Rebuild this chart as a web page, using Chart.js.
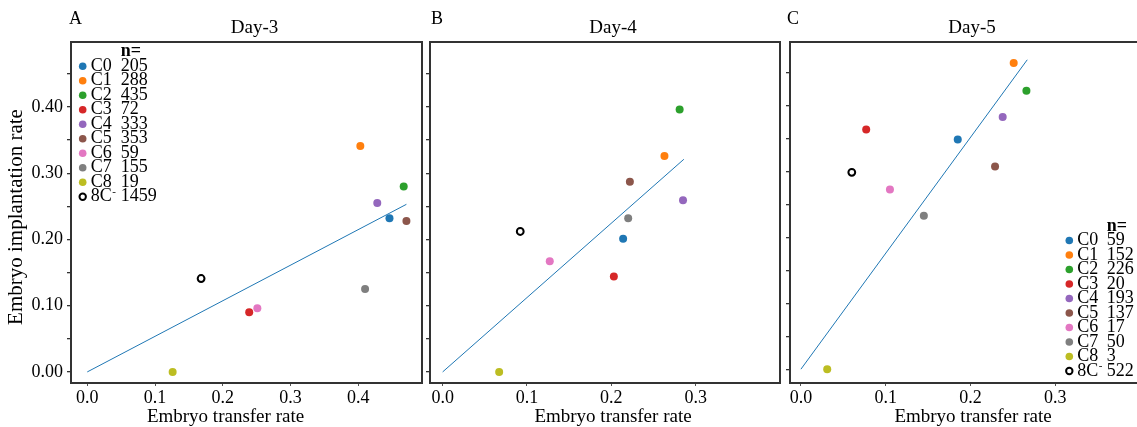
<!DOCTYPE html>
<html>
<head>
<meta charset="utf-8">
<script src="https://cdn.jsdelivr.net/npm/chart.js@4.4.1/dist/chart.umd.min.js"></script>
<style>
  html, body { margin: 0; padding: 0; background: #fff; overflow: hidden; }
  #wrap { position: relative; width: 1137px; height: 427px; overflow: hidden; }
  canvas { position: absolute; top: 0; }
</style>
</head>
<body>
<div id="wrap">
  <canvas id="chartA" width="428" height="427" style="left:0px"></canvas>
  <canvas id="chartB" width="362" height="427" style="left:424px"></canvas>
  <canvas id="chartC" width="362" height="427" style="left:784px"></canvas>
</div>
<script>
// clusters and colours
var clusters = ['C0', 'C1', 'C2', 'C3', 'C4', 'C5', 'C6', 'C7', 'C8'];
var clusterColors = ['#1f77b4', '#ff7f0e', '#2ca02c', '#d62728', '#9467bd', '#8c564b', '#e377c2', '#7f7f7f', '#bcbd22'];
var negLabel = '8C';

// Day-3
var day3X = [0.446, 0.403, 0.467, 0.239, 0.428, 0.471, 0.251, 0.410, 0.126];
var day3Y = [0.232, 0.341, 0.280, 0.090, 0.255, 0.228, 0.096, 0.125, 0.000];
var day3N = [205, 288, 435, 72, 333, 353, 59, 155, 19];
var day3Neg = [0.168, 0.141];
var day3NegN = 1459;
var day3Fit = [[0, 0], [0.471, 0.253]];

// Day-4
var day4X = [0.214, 0.263, 0.281, 0.203, 0.285, 0.222, 0.127, 0.220, 0.067];
var day4Y = [0.201, 0.326, 0.396, 0.144, 0.259, 0.287, 0.167, 0.232, 0.000];
var day4N = [31, 77, 121, 34, 86, 68, 13, 29, 4];
var day4Neg = [0.092, 0.212];
var day4NegN = 529;
var day4Fit = [[0, 0], [0.286, 0.321]];

// Day-5
var day5X = [0.185, 0.251, 0.266, 0.077, 0.238, 0.229, 0.105, 0.145, 0.031];
var day5Y = [0.349, 0.465, 0.423, 0.364, 0.383, 0.308, 0.273, 0.233, 0.000];
var day5N = [59, 152, 226, 20, 193, 137, 17, 50, 3];
var day5Neg = [0.060, 0.299];
var day5NegN = 522;
var day5Fit = [[0, 0], [0.267, 0.470]];

// axis ticks
var yTickValues = [0, 0.05, 0.1, 0.15, 0.2, 0.25, 0.3, 0.35, 0.4, 0.45];
var xTicksA = [0, 0.1, 0.2, 0.3, 0.4];
var xTicksBC = [0, 0.1, 0.2, 0.3];

var serif = "'Liberation Serif', 'Times New Roman', serif";

function toPoints(xs, ys) {
    return xs.map(function(x, i) { return { x: x, y: ys[i] }; });
}

// draws box, panel letter, title, axis titles and the n= legend
var panelPlugin = {
    id: 'panelDecor',
    afterDraw: function(chart) {
        var o = chart.options.plugins.panelDecor;
        var a = chart.chartArea;
        var ctx = chart.ctx;
        ctx.save();

        // frame
        ctx.strokeStyle = '#333';
        ctx.lineWidth = 2;
        ctx.strokeRect(a.left, a.top, a.right - a.left, a.bottom - a.top);

        ctx.fillStyle = '#000';
        ctx.textBaseline = 'middle';

        // panel letter
        ctx.font = '18px ' + serif;
        ctx.textAlign = 'left';
        ctx.fillText(o.letter, a.left + o.letterDx, 19);

        // title
        ctx.font = '19px ' + serif;
        ctx.textAlign = 'center';
        ctx.fillText(o.title, (a.left + a.right) / 2 + o.titleDx, 28);

        // x title
        ctx.fillText('Embryo transfer rate', (a.left + a.right) / 2 + o.xTitleDx, 417);

        // y title (only first panel)
        if (o.yTitle) {
            ctx.save();
            ctx.font = '21px ' + serif;
            ctx.translate(16, 217);
            ctx.rotate(-Math.PI / 2);
            ctx.fillText(o.yTitle, 0, 0);
            ctx.restore();
        }

        // legend
        var lg = o.legend;
        var x0 = lg.x, y0 = lg.y, step = 14.5;
        ctx.font = 'bold 18px ' + serif;
        ctx.textAlign = 'left';
        ctx.fillText('n=', x0 + lg.numDx, y0);
        ctx.font = '18px ' + serif;
        for (var i = 0; i < clusters.length; i++) {
            var yy = y0 + step * (i + 1);
            ctx.beginPath();
            ctx.fillStyle = clusterColors[i];
            ctx.arc(x0, yy, 3.8, 0, Math.PI * 2);
            ctx.fill();
            ctx.fillStyle = '#000';
            ctx.fillText(clusters[i], x0 + 8, yy);
            ctx.fillText(String(lg.n[i]), x0 + lg.numDx, yy);
        }
        var yn = y0 + step * (clusters.length + 1);
        ctx.beginPath();
        ctx.strokeStyle = '#000';
        ctx.lineWidth = 2;
        ctx.arc(x0, yn, 3.2, 0, Math.PI * 2);
        ctx.stroke();
        ctx.fillText(negLabel, x0 + 8, yn);
        var w = ctx.measureText(negLabel).width;
        ctx.font = '11px ' + serif;
        ctx.fillText('-', x0 + 8 + w + 0.5, yn - 5);
        ctx.font = '18px ' + serif;
        ctx.fillText(String(lg.negN), x0 + lg.numDx, yn);

        ctx.restore();
    }
};

function makeChart(id, cfg) {
    var ctx = document.getElementById(id);
    if (!ctx) {
        console.error('Canvas element not found.');
        return;
    }
    return new Chart(ctx.getContext('2d'), {
        type: 'scatter',
        data: {
            datasets: [{
                type: 'line',
                data: cfg.fit.map(function(p) { return { x: p[0], y: p[1] }; }),
                borderColor: '#1f77b4',
                borderWidth: 1,
                pointRadius: 0,
                fill: false
            }, {
                data: toPoints(cfg.xs, cfg.ys),
                backgroundColor: clusterColors,
                borderColor: clusterColors,
                borderWidth: 0,
                pointRadius: 4
            }, {
                data: [{ x: cfg.neg[0], y: cfg.neg[1] }],
                backgroundColor: '#fff',
                borderColor: '#000',
                borderWidth: 2,
                pointRadius: 3.4
            }]
        },
        options: {
            responsive: false,
            animation: false,
            layout: { padding: { top: 42, right: cfg.padRight, bottom: 0, left: 0 } },
            plugins: {
                legend: { display: false },
                tooltip: { enabled: false },
                panelDecor: cfg.decor
            },
            scales: {
                x: {
                    type: 'linear',
                    min: cfg.xMin,
                    max: cfg.xMax,
                    afterBuildTicks: function(s) { s.ticks = cfg.xTicks.map(function(v) { return { value: v }; }); },
                    afterFit: function(s) { s.height = 44; },
                    grid: { display: true, drawOnChartArea: false, drawTicks: true, tickLength: 3, color: '#555', lineWidth: 1 },
                    border: { display: false },
                    ticks: {
                        padding: 1,
                        color: '#000',
                        font: { family: serif, size: 18 },
                        callback: function(v) { return v.toFixed(1); }
                    }
                },
                y: {
                    type: 'linear',
                    min: cfg.yMin,
                    max: cfg.yMax,
                    afterBuildTicks: function(s) { s.ticks = yTickValues.map(function(v) { return { value: v }; }); },
                    afterFit: function(s) { s.width = cfg.yWidth; },
                    grid: { display: true, drawOnChartArea: false, drawTicks: true, tickLength: 4, color: '#333', lineWidth: 1.3 },
                    border: { display: false },
                    ticks: {
                        display: cfg.yLabels,
                        padding: 4,
                        color: '#000',
                        font: { family: serif, size: 18 },
                        callback: function(v) {
                            var r = Math.round(v * 100);
                            return r % 10 === 0 ? v.toFixed(2) : '';
                        }
                    }
                }
            }
        },
        plugins: [panelPlugin]
    });
}

makeChart('chartA', {
    xs: day3X, ys: day3Y, neg: day3Neg, fit: day3Fit,
    xMin: -0.024, xMax: 0.494, yMin: -0.0167, yMax: 0.498,
    xTicks: xTicksA, yWidth: 71, yLabels: true, padRight: 5,
    decor: {
        letter: 'A', letterDx: -2, title: 'Day-3', titleDx: 8, xTitleDx: -21,
        yTitle: 'Embryo implantation rate',
        legend: { x: 82.7, y: 51.7, numDx: 38, n: day3N, negN: day3NegN }
    }
});

makeChart('chartB', {
    xs: day4X, ys: day4Y, neg: day4Neg, fit: day4Fit,
    xMin: -0.015, xMax: 0.40, yMin: -0.0167, yMax: 0.498,
    xTicks: xTicksBC, yWidth: 6, yLabels: false, padRight: 3,
    decor: {
        letter: 'B', letterDx: 1, title: 'Day-4', titleDx: 8, xTitleDx: 8,
        yTitle: null,
        legend: { x: 445, y: 51.7, numDx: 37.7, n: day4N, negN: day4NegN }
    }
});

makeChart('chartC', {
    xs: day5X, ys: day5Y, neg: day5Neg, fit: day5Fit,
    xMin: -0.0129, xMax: 0.40, yMin: -0.021, yMax: 0.497,
    xTicks: xTicksBC, yWidth: 6, yLabels: false, padRight: 4,
    decor: {
        letter: 'C', letterDx: -3, title: 'Day-5', titleDx: 7, xTitleDx: 8,
        yTitle: null,
        legend: { x: 1069.3 - 784, y: 226, numDx: 37.4, n: day5N, negN: day5NegN }
    }
});
</script>
</body>
</html>
